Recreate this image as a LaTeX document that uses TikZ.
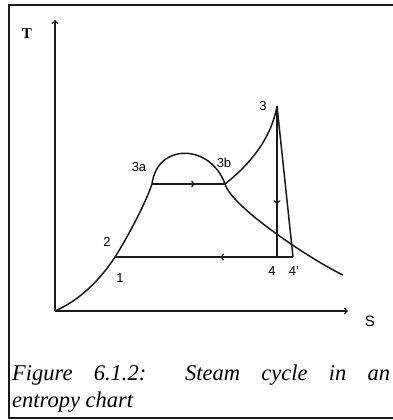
\documentclass[tikz,border=0pt]{standalone}
\usepackage{fontspec}
\setmainfont{Liberation Serif}
\setsansfont{Liberation Sans}
\usetikzlibrary{arrows,decorations.markings}
\tikzset{>=to}
\definecolor{ink}{HTML}{1A1A1A}
\tikzset{
  curve/.style={ink,line width=1.5bp},
  axis/.style={->,ink,line width=1.5bp},
  midarrow/.style={postaction={decorate},
    decoration={markings,mark=at position #1 with {\arrow{>}}}},
  lbl/.style={font=\sffamily\fontsize{13bp}{13bp}\selectfont,inner sep=0pt},
  caption/.style={anchor=base west,inner sep=0pt,
    font=\itshape\fontsize{22.5bp}{27bp}\selectfont},
}
\begin{document}
\begin{tikzpicture}[x=1bp,y=-1bp]
\clip (0,0) rectangle (393,420);
\draw[ink,line width=1.6bp] (9,5) rectangle (410,418);
% state points
\coordinate (o) at (55,311);
\coordinate (p1) at (115,257);
\coordinate (p3a) at (152,184);
\coordinate (p3b) at (225,184);
\coordinate (p3) at (277,106);
\coordinate (p4) at (277,257);
\coordinate (p4b) at (293,257);
\coordinate (cend) at (343,275);
\coordinate (ttop) at (55,20);
\coordinate (send) at (348,311);
% axes
\draw[axis] (o) -- (ttop);
\draw[axis] (o) -- (send);
\node[font=\bfseries\fontsize{15bp}{15bp}\selectfont,inner sep=0pt] (tl) at (27,34) {T};
\node[lbl,font=\sffamily\fontsize{15bp}{15bp}\selectfont] (sl) at (370,321) {S};
% saturation curve
\draw[curve] (o) .. controls (80,300) and (100,280) .. (p1)
  .. controls (125,241.7) and (145,205) .. (p3a)
  .. controls (157,143) and (210,143) .. (p3b)
  .. controls (232,208) and (315,262) .. (cend);
% cycle
\draw[curve] (p3b) .. controls (248,166) and (271,140) .. (p3);
\draw[curve,midarrow=0.59] (p3a) -- (p3b);
\draw[curve,midarrow=0.65] (p3) -- (p4);
\draw[curve] (p3) -- (p4b);
\draw[curve,midarrow=0.41] (p4b) -- (p1);
% labels
\node[lbl] (l1) at (120,278) {1};
\node[lbl] (l2) at (107,242) {2};
\node[lbl] (l3a) at (139,167) {3a};
\node[lbl] (l3b) at (224,163) {3b};
\node[lbl] (l3) at (263,106) {3};
\node[lbl] (l4) at (272,271) {4};
\node[lbl] (l4b) at (294,271) {4'};
% caption
\node[caption] (cap1) at (12,380) {\makebox[378bp][s]{Figure 6.1.2: Steam cycle in an}};
\node[caption] (cap2) at (12,407) {entropy chart};
\end{tikzpicture}
\end{document}
